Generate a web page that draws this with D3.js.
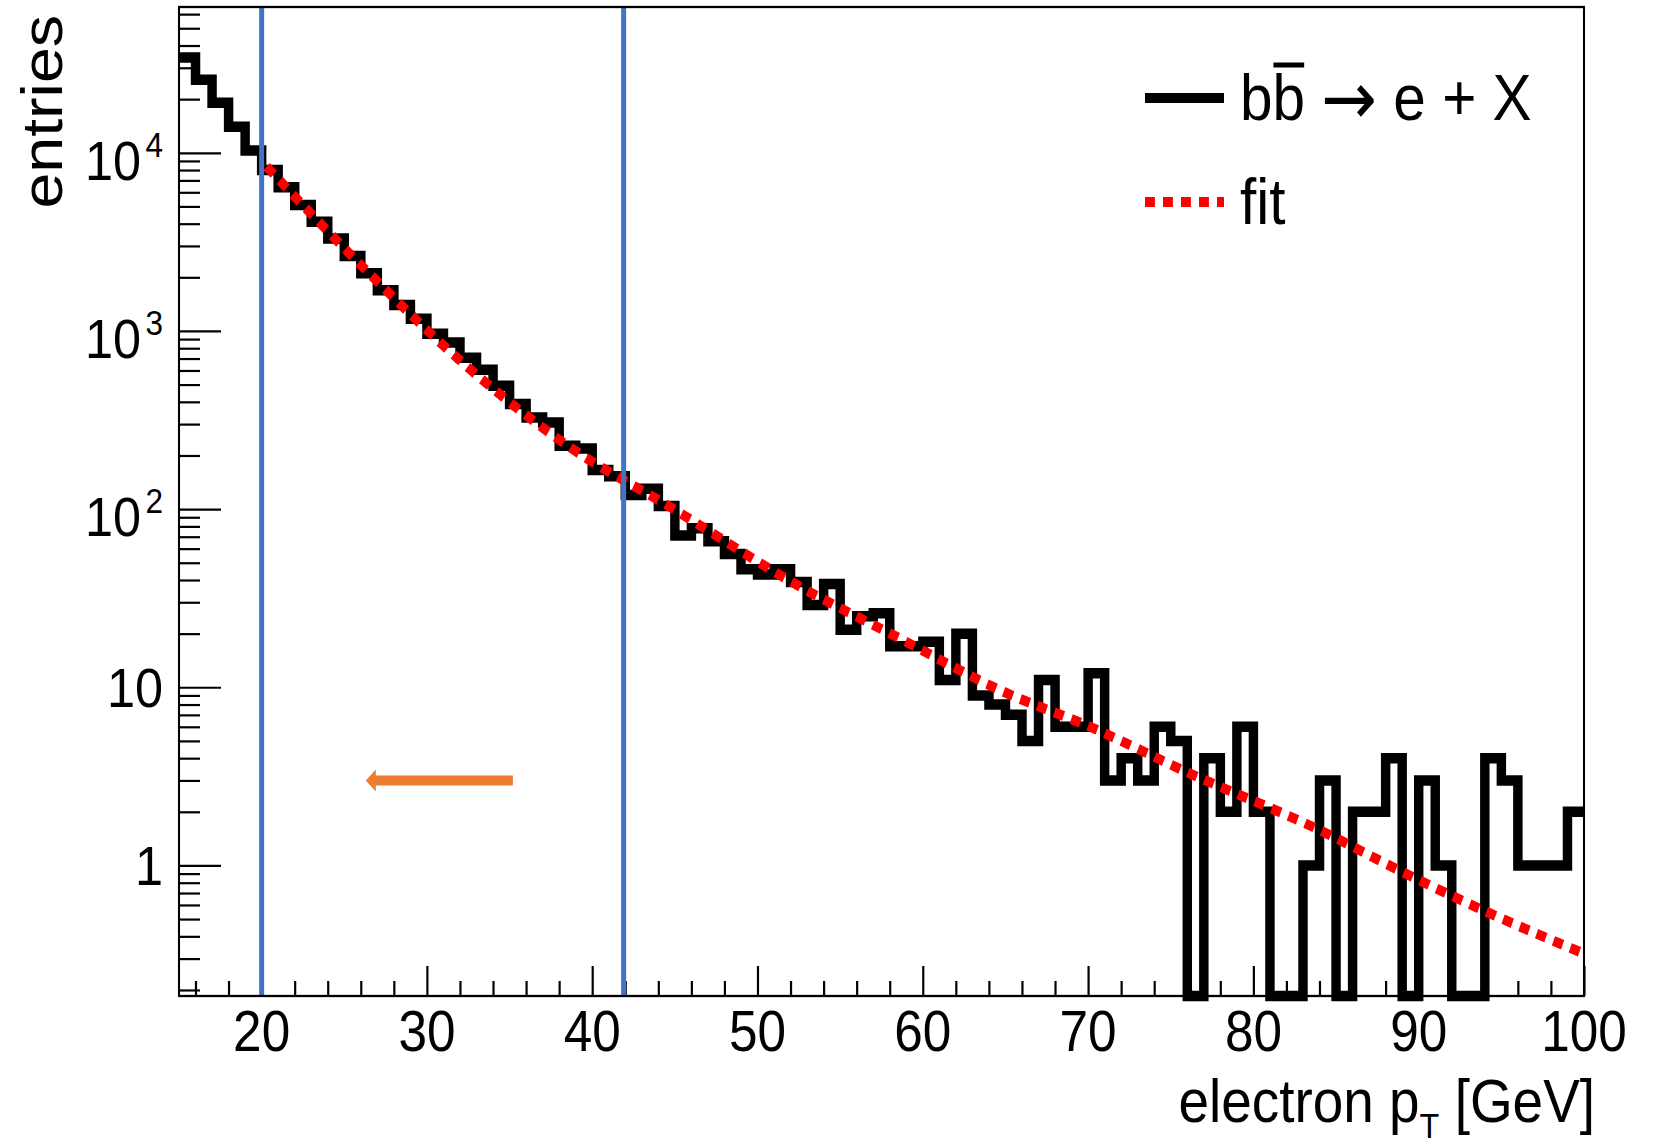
<!DOCTYPE html>
<html><head><meta charset="utf-8">
<script src="https://cdn.jsdelivr.net/npm/d3@7"></script>
<style>body{margin:0;background:#fff} svg{display:block}</style>
</head><body>
<svg id="c" width="1653" height="1147"></svg>
<script>
// ---------- data ----------
const binLow = d3.range(15, 100);          // bin lower edges [GeV], 1 GeV bins
const binWidth = 1;
const counts = [
  34300,25700,19100,14000,10300,8000,6400,5100,4100,3300,
  2630,2110,1690,1400,1170,964,860,708,606,492,
  389,327,306,227,219,166,153,120,130,104,
  71,78,66,56,46,43,46,39,29,38,
  21,25,26,17,17,18,11,20,9,8,
  7,5,11,6,6,12,3,4,3,6,
  5,0,4,2,6,2,0,0,1,3,
  0,2,2,4,0,3,1,0,0,4,
  3,1,1,1,2
];
const fitX = [20.3, 26.3, 32.2, 38.6, 44.7, 52.5, 58.6, 64.6, 70.3, 76.1, 84.0, 89.0, 93.9, 100];
const fitY = [8360, 2200, 658, 224, 103, 37, 18.8, 9.7, 5.9, 3.3, 1.58, 0.92, 0.56, 0.32];
const xTickMajor = [20, 30, 40, 50, 60, 70, 80, 90, 100];
const xTickLabels = ["20","30","40","50","60","70","80","90","100"];
const yTickMajor = [1, 10, 100, 1000, 10000];
const yTickLabels = [["1",""],["10",""],["10","2"],["10","3"],["10","4"]];
const cutLines = [20, 41.9];
const arrowFrom = [35.2, 3], arrowTo = [26.3, 3];
const legendLabels = ["b", "fit"];

// ---------- layout ----------
const SX = 0.9;                 // horizontal compression of the whole picture
const T = 7, B = 996;
const L = 179 / SX, R = 1584 / SX;
const FONT = "'Liberation Sans', Arial, Helvetica, sans-serif";

const x = d3.scaleLinear().domain([15, 100]).range([L, R]);
const y = d3.scaleLog().domain([0.185, 65800]).range([B, T]);

const svg = d3.select("#c");
svg.append("rect").attr("width",1653).attr("height",1147).attr("fill","#fff");
const g = svg.append("g").attr("transform", `scale(${SX},1)`);

// ---------- ticks ----------
const xMinor = d3.range(16, 100, 2).filter(v => !xTickMajor.includes(v));
const yMinor = [];
for (let d = -1; d <= 4; d++) for (let m = 2; m <= 9; m++) {
  const v = m * Math.pow(10, d);
  if (v >= y.domain()[0] && v <= y.domain()[1]) yMinor.push(v);
}
function styleAxis(sel, sw) {
  sel.select(".domain").remove();
  sel.selectAll("line").attr("stroke", "#000").attr("stroke-width", sw);
}
g.append("g").attr("transform", `translate(0,${B})`)
  .call(d3.axisBottom(x).tickValues(xTickMajor).tickSize(-30).tickFormat(""))
  .call(s => styleAxis(s, 2.2 / SX));
g.append("g").attr("transform", `translate(0,${B})`)
  .call(d3.axisBottom(x).tickValues(xMinor).tickSize(-15).tickFormat(""))
  .call(s => styleAxis(s, 2.2 / SX));
g.append("g").attr("transform", `translate(${L},0)`)
  .call(d3.axisLeft(y).tickValues(yTickMajor).tickSize(-42 / SX).tickFormat(""))
  .call(s => styleAxis(s, 2.2));
g.append("g").attr("transform", `translate(${L},0)`)
  .call(d3.axisLeft(y).tickValues(yMinor).tickSize(-21 / SX).tickFormat(""))
  .call(s => styleAxis(s, 2.2));

// ---------- histogram ----------
const histPts = binLow.map((b, i) => [b, counts[i]]);
histPts.push([binLow[binLow.length - 1] + binWidth, counts[counts.length - 1]]);
const histLine = d3.line()
  .x(d => x(d[0]))
  .y(d => d[1] > 0 ? y(d[1]) : B)
  .curve(d3.curveStepAfter);
g.append("path").attr("d", histLine(histPts))
  .attr("fill", "none").attr("stroke", "#000")
  .attr("stroke-width", 10.5).attr("stroke-linejoin", "miter");

// ---------- fit ----------
const fitLine = d3.line().x(d => x(d[0])).y(d => y(d[1])).curve(d3.curveMonotoneX);
g.append("path").attr("d", fitLine(fitX.map((v, i) => [v, fitY[i]])))
  .attr("fill", "none").attr("stroke", "#ff0000")
  .attr("stroke-width", 10).attr("stroke-dasharray", "11 9");

// ---------- cut lines ----------
g.selectAll(".cut").data(cutLines).enter().append("line")
  .attr("x1", d => x(d)).attr("x2", d => x(d))
  .attr("y1", T).attr("y2", B)
  .attr("stroke", "#4472C4").attr("stroke-width", 5 / SX);

// ---------- arrow ----------
const ay = y(arrowFrom[1]);
const tipX = x(arrowTo[0]);
g.append("line").attr("x1", x(arrowFrom[0])).attr("x2", tipX + 8 / SX)
  .attr("y1", ay).attr("y2", ay).attr("stroke", "#ED7D31").attr("stroke-width", 10);
g.append("path")
  .attr("d", `M${tipX},${ay} L${tipX + 10 / SX},${ay - 11} L${tipX + 10 / SX},${ay + 11} Z`)
  .attr("fill", "#ED7D31");

// ---------- frame ----------
g.append("rect").attr("x", L).attr("y", T).attr("width", R - L).attr("height", B - T)
  .attr("fill", "none").attr("stroke", "#000").attr("stroke-width", 2.3);

// ---------- tick labels ----------
g.selectAll(".xl").data(xTickMajor).enter().append("text")
  .attr("x", d => x(d)).attr("y", 1051)
  .attr("text-anchor", "middle").attr("font-family", FONT).attr("font-size", 57)
  .text((d, i) => xTickLabels[i]);

yTickMajor.forEach((v, i) => {
  const [base, sup] = yTickLabels[i];
  const t = g.append("text").attr("x", 163 / SX).attr("y", y(v) + (sup ? 27 : 20))
    .attr("text-anchor", "end").attr("font-family", FONT).attr("font-size", 56);
  t.append("tspan").text(base);
  if (sup) t.append("tspan").attr("dx", 5).attr("dy", -23).attr("font-size", 35).text(sup);
});

// ---------- axis titles ----------
g.append("text").attr("transform", `translate(${61.7 / SX},15) rotate(-90)`)
  .attr("text-anchor", "end").attr("font-family", FONT).attr("font-size", 64.5)
  .text("entries");

const xt = g.append("text").attr("x", 1595 / SX).attr("y", 1122)
  .attr("text-anchor", "end").attr("font-family", FONT).attr("font-size", 61);
xt.append("tspan").text("electron p");
xt.append("tspan").attr("dy", 16).attr("font-size", 36).text("T");
xt.append("tspan").attr("dy", -16).text(" [GeV]");

// ---------- legend ----------
const lgX1 = 1145 / SX, lgX2 = 1224 / SX, lgTx = 1240 / SX;
g.append("line").attr("x1", lgX1).attr("x2", lgX2).attr("y1", 98).attr("y2", 98)
  .attr("stroke", "#000").attr("stroke-width", 10);
g.append("line").attr("x1", lgX1).attr("x2", lgX2).attr("y1", 202).attr("y2", 202)
  .attr("stroke", "#ff0000").attr("stroke-width", 10).attr("stroke-dasharray", "11 9");

const l1 = g.append("text").attr("x", lgTx).attr("y", 120)
  .attr("font-family", FONT).attr("font-size", 65);
l1.append("tspan").text(legendLabels[0]);
l1.append("tspan").text("b");
l1.append("tspan").text(" ");
l1.append("tspan").attr("font-family", "'DejaVu Sans', sans-serif").attr("font-size", 74)
  .attr("dy", 4).text("\u2192");
l1.append("tspan").attr("dy", -4).text(" e + X");
const n = l1.node();
const s1 = n.getSubStringLength(0, 1), s2 = n.getSubStringLength(1, 1);
g.append("line").attr("x1", lgTx + s1 + 1).attr("x2", lgTx + s1 + s2 - 1)
  .attr("y1", 65).attr("y2", 65).attr("stroke", "#000").attr("stroke-width", 5);

g.append("text").attr("x", lgTx).attr("y", 224)
  .attr("font-family", FONT).attr("font-size", 65).text(legendLabels[1]);
</script>
</body></html>
